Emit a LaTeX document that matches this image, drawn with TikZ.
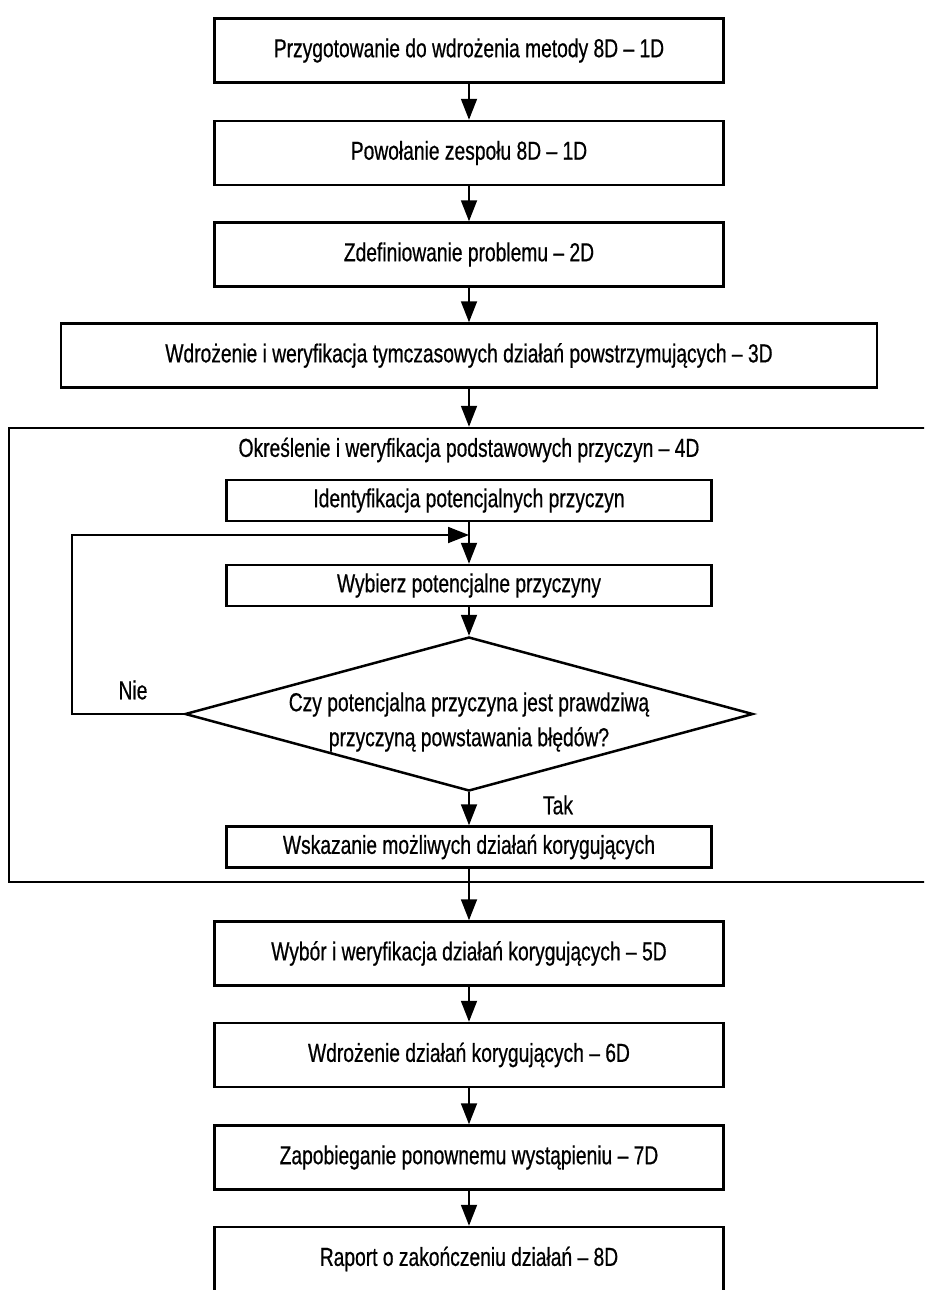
\documentclass[tikz,border=0pt]{standalone}
\usepackage{fontspec}
\setmainfont{Liberation Sans}[FakeStretch=0.74, FakeBold=0.6]
\usetikzlibrary{arrows.meta,shapes.geometric}

\begin{document}
\begin{tikzpicture}[x=1pt, y=-1pt, line width=2.5pt,
  font=\fontsize{26}{35}\selectfont,
  krok/.style={draw, minimum width=509pt, minimum height=64pt, inner sep=0pt},
  podkrok/.style={draw, minimum width=485pt, minimum height=41pt, inner sep=0pt},
  arr/.style={line width=1.8pt, -{Triangle[length=21pt,width=16pt]}}]
\useasboundingbox (0,0) rectangle (924,1290);
\clip (0,0) rectangle (924,1290);

% 上面的步骤
\node[krok] (przyg) at (469,50.5) {Przygotowanie do wdrożenia metody 8D – 1D};
\node[krok] (zesp) at (469,153) {Powołanie zespołu 8D – 1D};
\node[krok] (probl) at (469,254.5) {Zdefiniowanie problemu – 2D};
\node[krok, minimum width=816pt] (dzial) at (469,355.5) {Wdrożenie i weryfikacja tymczasowych działań powstrzymujących – 3D};

% 4D 框
\node[draw, minimum width=931pt, minimum height=454pt] (ramka) at (474.5,655) {};
\node (tytul) at (469,450) {Określenie i weryfikacja podstawowych przyczyn – 4D};
\node[podkrok] (ident) at (469,500.5) {Identyfikacja potencjalnych przyczyn};
\node[podkrok] (wybierz) at (469,585.5) {Wybierz potencjalne przyczyny};
\node[draw, shape=diamond, aspect=3.7, minimum width=568pt, minimum height=154pt,
  inner sep=0pt] (czy) at (469,714) {};
\node[align=center] (czytekst) at (469,722)
  {Czy potencjalna przyczyna jest prawdziwą\\przyczyną powstawania błędów?};
\node[podkrok] (wskaz) at (469,847) {Wskazanie możliwych działań korygujących};
\node (nie) at (133,690) {Nie};
\node (tak) at (558,805) {Tak};

% 下面的步骤
\node[krok] (wybor) at (469,953.5) {Wybór i weryfikacja działań korygujących – 5D};
\node[krok] (wdroz) at (469,1055) {Wdrożenie działań korygujących – 6D};
\node[krok] (zapob) at (469,1157.5) {Zapobieganie ponownemu wystąpieniu – 7D};
\node[krok] (raport) at (469,1259) {Raport o zakończeniu działań – 8D};

% 箭头
\draw[arr] (przyg) -- (zesp);
\draw[arr] (zesp) -- (probl);
\draw[arr] (probl) -- (dzial);
\draw[arr] (dzial) -- (dzial.south |- ramka.north);
\draw[arr] (ident) -- (wybierz);
\draw[arr] (wybierz) -- (czy);
\draw[arr] (czy) -- (wskaz);
\draw[arr] (wskaz) -- (wybor);
\draw[arr] (wybor) -- (wdroz);
\draw[arr] (wdroz) -- (zapob);
\draw[arr] (zapob) -- (raport);

% 回路 Nie
\coordinate (zakret) at (72,535);
\coordinate (wejscie) at (ident.south |- zakret);
\draw[arr] (czy.west) -| (zakret) -- (wejscie);
\end{tikzpicture}
\end{document}
